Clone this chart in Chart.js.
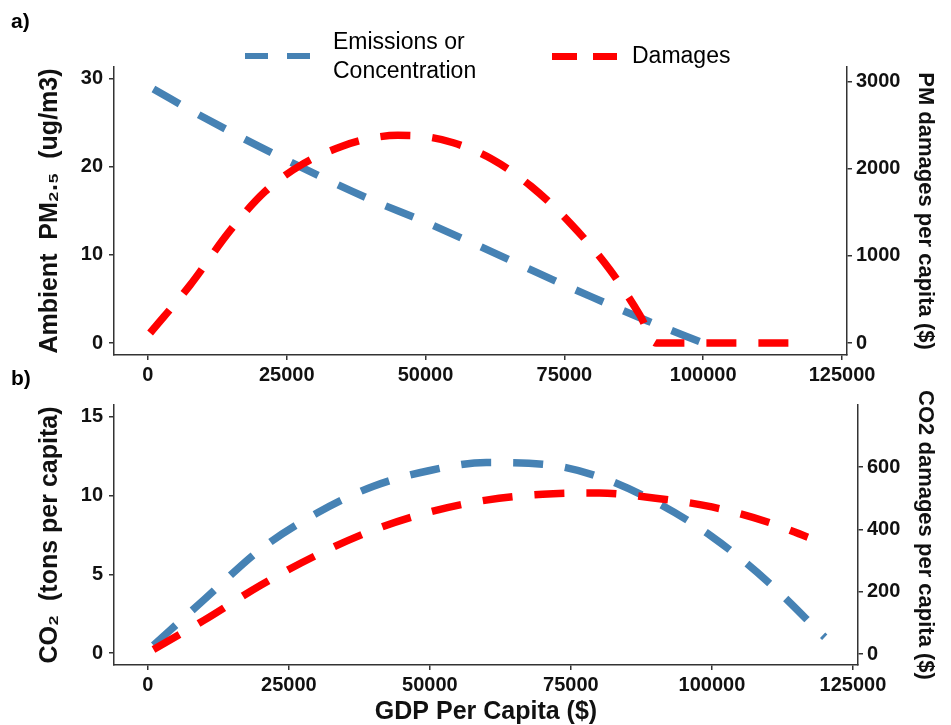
<!DOCTYPE html>
<html><head><meta charset="utf-8">
<script src="https://cdn.jsdelivr.net/npm/chart.js@4.4.1/dist/chart.umd.min.js"></script>
<style>
html,body{margin:0;padding:0;background:#fff;}
#wrap{position:relative;width:951px;height:725px;overflow:hidden;font-family:"Liberation Sans",Arial,sans-serif;background:#fff;}
.box{position:absolute;left:0;width:951px;}
#boxA{top:0;height:385px;}
#boxB{top:385px;height:340px;}
.plabel{position:absolute;font-weight:bold;font-size:21px;line-height:21px;color:#000;}
.key{position:absolute;height:6px;}
.ltext{position:absolute;font-size:23px;color:#000;line-height:29px;white-space:nowrap;}
</style></head>
<body><div id="wrap">
<div class="box" id="boxA"><canvas id="cA"></canvas></div>
<div class="box" id="boxB"><canvas id="cB"></canvas></div>
<div class="plabel" style="left:11px;top:10px;">a)</div>
<div class="plabel" style="left:11px;top:367px;">b)</div>
<div class="key" style="left:245px;top:53px;width:23px;background:#4682B4;"></div>
<div class="key" style="left:287px;top:53px;width:23px;background:#4682B4;"></div>
<div class="ltext" style="left:333px;top:27px;">Emissions or<br>Concentration</div>
<div class="key" style="left:552px;top:53px;width:25px;height:7px;background:#FF0000;"></div>
<div class="key" style="left:593px;top:53px;width:24px;height:7px;background:#FF0000;"></div>
<div class="ltext" style="left:632px;top:41px;">Damages</div>
</div>
<script>
// ---- tick values ----
const gdpTicks = [0, 25000, 50000, 75000, 100000, 125000];
const pmTicks = [0, 10, 20, 30];
const pmDamTicks = [0, 1000, 2000, 3000];
const co2Ticks = [0, 5, 10, 15];
const co2DamTicks = [0, 200, 400, 600];

// ---- panel a: PM2.5 ----
const gdpPmConc = [1000, 10000, 20000, 30000, 40000, 50000, 60000, 70000, 80000, 90000, 100000];
const pmConc    = [28.8, 25.6, 22.3, 19.2, 16.3, 13.7, 10.9, 8.0, 5.2, 2.5, 0.0];

const gdpPmDam = [400, 7600, 14800, 21100, 28000, 35000, 40000, 45000, 50000, 55000, 62000, 69000, 76000, 83200, 88600, 91500, 100000, 110000, 117500];
const pmDamages = [115, 665, 1290, 1740, 2060, 2260, 2350, 2385, 2370, 2300, 2110, 1800, 1380, 840, 320, 0, 0, 0, 0];

// ---- panel b: CO2 ----
const gdpCo2 = [1000, 10000, 20000, 30000, 40000, 50000, 60000, 70000, 80000, 90000, 100000, 110000, 120000];
const co2Emis = [0.5, 3.4, 6.6, 8.9, 10.6, 11.6, 12.1, 12.0, 11.2, 9.6, 7.4, 4.5, 1.0];

const gdpCo2Dam = [1000, 10000, 20000, 30000, 40000, 50000, 60000, 70000, 80000, 90000, 100000, 110000, 117000];
const co2Damages = [15, 109, 221, 318, 398, 456, 494, 513, 517, 500, 472, 423, 375];

const BLUE = '#4682B4', RED = '#FF0000';
const FONT = '"Liberation Sans", Arial, sans-serif';

function pts(xs, ys){ return xs.map((x,i)=>({x:x, y:ys[i]})); }
function fixTicks(vals){ return function(s){ s.ticks = vals.map(v=>({value:v})); }; }

function ds(label, xs, ys, color, axis, order){
  return {label, data: pts(xs, ys), borderColor: color, backgroundColor: color,
    borderWidth: 7.5, borderDash: [30, 22], borderCapStyle: 'butt', pointRadius: 0,
    cubicInterpolationMode: 'monotone', fill: false, yAxisID: axis, order: order};
}

const tickFont = {family: FONT, size: 20, weight: 'bold'};
const gridCfg = {display: true, drawOnChartArea: false, drawTicks: true, tickLength: 5, color: '#333', lineWidth: 1.5};
const borderCfg = {display: true, color: '#333', width: 1.5};

function makeChart(id, cfg){
  return new Chart(document.getElementById(id), {
    type: 'line',
    data: {datasets: cfg.datasets},
    options: {
      responsive: true, maintainAspectRatio: false, animation: false, events: [],
      layout: {padding: {top: cfg.padTop, left: 0, right: 0, bottom: 0}},
      plugins: {legend: {display: false}, tooltip: {enabled: false}},
      scales: {
        x: {type: 'linear', position: 'bottom', min: cfg.xMin, max: cfg.xMax,
          afterBuildTicks: fixTicks(gdpTicks),
          afterFit: s => { s.height = cfg.xHeight; },
          grid: gridCfg, border: borderCfg,
          ticks: {font: tickFont, color: '#111', padding: 3, maxRotation: 0, autoSkip: false, callback: v => String(v)},
          title: cfg.xTitle ? {display: true, text: cfg.xTitle, font: {family: FONT, size: 25, weight: 'bold', lineHeight: 1}, color: '#111', padding: {top: 0, bottom: 0}} : {display: false}
        },
        yL: {type: 'linear', position: 'left', min: cfg.lMin, max: cfg.lMax,
          afterBuildTicks: fixTicks(cfg.lTicks),
          afterFit: s => { s.width = 114; },
          grid: gridCfg, border: borderCfg,
          ticks: {font: tickFont, color: '#111', padding: 6, callback: v => String(v)},
          title: {display: true, text: cfg.lTitle, font: {family: FONT, size: 25, weight: 'bold', lineHeight: 1.2}, color: '#111', padding: {top: 35, bottom: 0}}
        },
        yR: {type: 'linear', position: 'right', min: cfg.rMin, max: cfg.rMax,
          afterBuildTicks: fixTicks(cfg.rTicks),
          afterFit: s => { s.width = cfg.rWidth; },
          grid: gridCfg, border: borderCfg,
          ticks: {font: tickFont, color: '#111', padding: 4, callback: v => String(v)},
          title: {display: true, text: cfg.rTitle, font: {family: FONT, size: 22, weight: 'bold', lineHeight: 1.2}, color: '#111', padding: {top: 13, bottom: 0}}
        }
      }
    }
  });
}

makeChart('cA', {
  datasets: [
    ds('Damages', gdpPmDam, pmDamages, RED, 'yR', 0),
    ds('Emissions or Concentration', gdpPmConc, pmConc, BLUE, 'yL', 1)
  ],
  padTop: 67, xHeight: 30, rWidth: 104,
  xMin: -6100, xMax: 125900,
  lMin: -1.36, lMax: 31.3, lTicks: pmTicks,
  rMin: -138, rMax: 3170, rTicks: pmDamTicks,
  lTitle: 'Ambient  PM\u2082.\u2085  (ug/m3)',
  rTitle: 'PM damages per capita ($)',
  xTitle: null
});

makeChart('cB', {
  datasets: [
    ds('Damages', gdpCo2Dam, co2Damages, RED, 'yR', 0),
    ds('Emissions or Concentration', gdpCo2, co2Emis, BLUE, 'yL', 1)
  ],
  padTop: 20, xHeight: 60, rWidth: 93,
  xMin: -6000, xMax: 125900,
  lMin: -0.76, lMax: 15.76, lTicks: co2Ticks,
  rMin: -35, rMax: 799, rTicks: co2DamTicks,
  lTitle: 'CO\u2082  (tons per capita)',
  rTitle: 'CO2 damages per capita ($)',
  xTitle: 'GDP Per Capita ($)'
});
</script>
</body></html>
